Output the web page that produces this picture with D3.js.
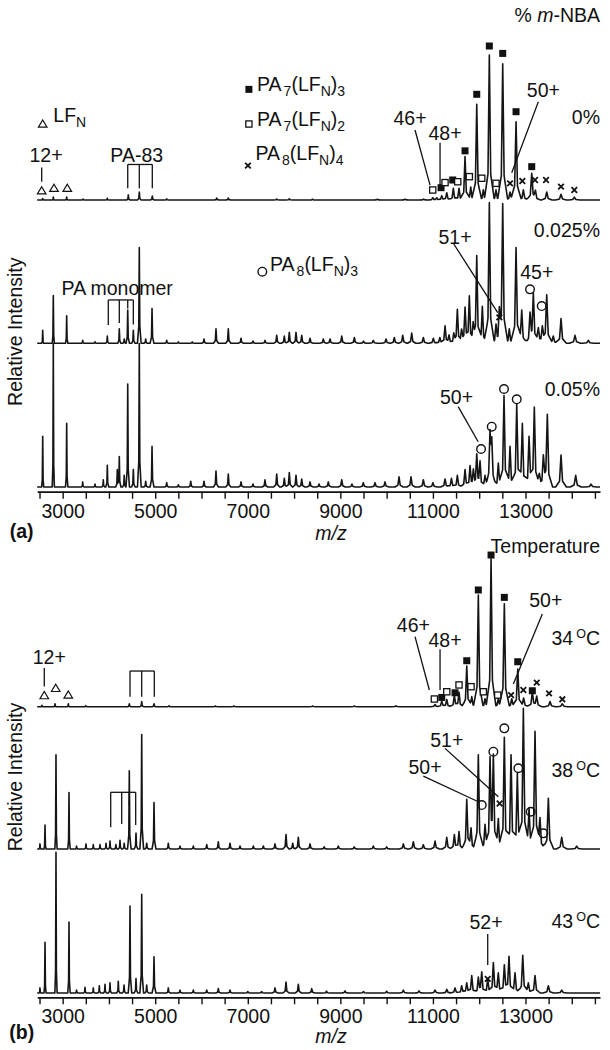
<!DOCTYPE html>
<html><head><meta charset="utf-8">
<script src="https://cdn.jsdelivr.net/npm/d3@7"></script>
<style>
body{margin:0;background:#fff}
svg{display:block}
text{font-family:"Liberation Sans",Arial,sans-serif;fill:#111;font-size:19.5px}
</style>
</head><body>
<svg id="chart" width="610" height="1050"></svg>
<script>
// ---------------- DATA ----------------
const mzDomain = [2450, 14610];
const tickValues = [2500,3000,3500,4000,4500,5000,5500,6000,6500,7000,7500,8000,8500,9000,9500,10000,10500,11000,11500,12000,12500,13000,13500,14000,14500];
const tickLabels = [3000,5000,7000,9000,11000,13000];

// peaks: [m/z, relative intensity]
const peaks_0pct = [[2569,1],[2798,2],[3087,2],[3440,0.7],[3965,1.2],[4419,3.5],[4656,5.5],[4937,2.8],[5248,0.8],[6329,1.4],[6579,1.4],[7625,0.7],[7897,0.8],[8400,0.5],[9800,0.5],[10400,0.6],[10800,0.6],[10996,1.5],[11082,1.5],[11191,3],[11299,5],[11441,8],[11564,8],[11694,30],[11817,9],[11947,66],[12089,7],[12219,100],[12363,7],[12508,94],[12666,5.5],[12796,54],[12954,7],[13135,18],[13215,5.5],[13459,5.5],[13768,4],[14055,2]];
const peaks_0025pct = [[2569,9],[2798,33],[3087,19],[3433,2],[3700,1],[3965,5],[4224,10],[4330,3],[4406,23],[4527,9],[4656,66],[4794,3],[4931,24],[5248,2],[5500,1],[5800,1],[6054,3],[6313,10],[6579,10],[6854,3.5],[7113,1.5],[7372,2],[7625,5.5],[7789,5],[7897,7.5],[8042,7.5],[8165,5.5],[8345,3.5],[8632,3],[8777,3],[9030,5],[9302,4],[9500,1.5],[9712,2],[9987,3],[10166,4],[10348,5.5],[10542,7],[10793,4],[11009,3.5],[11150,4],[11262,12],[11349,5.5],[11450,6],[11528,23],[11620,8],[11694,24],[11787,32],[11870,10],[11947,60],[12068,25.5],[12219,97],[12363,12],[12435,17],[12508,95],[12650,10],[12796,66],[12919,23],[13098,18.6],[13170,33],[13278,10],[13364,10],[13459,33],[13600,5],[13768,17],[14070,5.5],[14358,2]];
const peaks_005pct = [[2569,35],[2798,99],[3087,44],[3433,3.5],[3699,2],[3878,5],[3965,15],[4181,12],[4224,21],[4330,8],[4406,71],[4527,12],[4656,99],[4794,4],[4931,28],[5248,3],[5500,1.5],[5767,4],[6054,4],[6313,11],[6579,9],[6854,3.5],[7113,2],[7372,5],[7625,9],[7789,6],[7897,10],[8042,8],[8165,5.5],[8345,3.5],[8540,2],[8740,3.5],[9030,5],[9250,2],[9496,3],[9749,3],[9965,3.5],[10268,7],[10527,7],[10793,5],[11000,3],[11262,5.5],[11400,6],[11528,8],[11694,12],[11802,14],[11874,10],[11947,21],[12018,16.5],[12126,8],[12234,35],[12271,29],[12413,16.5],[12536,63],[12666,28],[12811,57],[12932,44],[13077,35],[13191,55],[13300,8],[13386,18.6],[13472,49],[13768,22],[14085,8],[14416,2]];
const peaks_34C = [[2550,1],[2835,2],[3122,2],[3500,0.7],[4440,2],[4708,3.5],[4974,2],[5300,0.6],[6300,0.5],[6700,0.5],[8400,0.5],[9300,0.5],[10200,0.6],[11046,1.5],[11191,4],[11299,5],[11463,8],[11564,10],[11731,28],[11839,7],[11981,77],[12126,5.5],[12256,102],[12413,5.5],[12543,71],[12703,5.5],[12833,26],[12960,6],[13148,10],[13243,7],[13530,3.5],[13796,2]];
const peaks_38C = [[2510,3.5],[2619,16.5],[2856,65],[3137,39],[3300,2],[3504,3.5],[3662,3],[3807,3],[3937,4],[4023,5.5],[4150,3],[4239,6],[4330,4],[4440,54],[4585,11],[4708,79],[4816,4],[4974,32],[5283,4],[5536,2],[5823,2],[6113,3],[6363,5],[6616,4],[6832,2],[7120,2],[7336,2],[7588,3.5],[7826,10],[7971,4],[8092,8],[8345,3.5],[8650,1.5],[8956,2],[9300,1.5],[9712,2],[10000,1.5],[10361,3.5],[10577,5],[10793,3],[11046,5.5],[11299,8],[11463,10],[11564,12],[11731,34],[11824,14],[11981,65],[12126,17],[12234,59],[12306,61],[12413,21],[12543,77],[12688,65],[12824,52],[12954,97],[13077,28],[13206,81],[13314,21],[13494,35],[13783,8],[14107,2]];
const peaks_43C = [[2510,3.5],[2619,35],[2856,97],[3137,49],[3300,2],[3483,4],[3662,3.5],[3792,5],[3915,6],[4023,7],[4202,8],[4326,5.5],[4455,60],[4585,10],[4708,68],[4816,5.5],[4974,25],[5283,3.5],[5536,2],[5823,2],[6113,2],[6363,3],[6616,2],[7000,1],[7300,1],[7588,3.5],[7826,7.5],[8092,6],[8381,3],[8700,1.2],[9101,1.5],[9500,1],[10000,1.2],[10361,2],[10700,1.5],[11046,2],[11300,2.5],[11478,3.5],[11622,5],[11731,7],[11839,12],[11981,10],[12055,14],[12184,10],[12306,21],[12413,14],[12543,19],[12644,25],[12774,14],[12941,26],[13062,7],[13206,12],[13494,5],[13783,2]];

// markers: [m/z, intensity level of symbol]
const sqFilled_0pct = [[11176,8.5],[11428,13.8],[11694,33.9],[11947,72.9],[12219,106.2],[12508,101.1],[12796,60.9],[13135,23]];
const sqOpen_0pct = [[10996,6.9],[11262,12],[11536,12.6],[11787,16.1],[12055,15],[12363,11.5]];
const cross_0pct = [[12666,11.5],[12932,13.1],[13206,13.8],[13444,13.8],[13768,9.2],[14055,6.9]];
const tri_0pct = [[2547,6.4],[2813,8.1],[3100,8.1]];
const cross_0025pct = [[12435,17.9]];
const circ_0025pct = [[13098,37.2],[13351,25.7]];
const circ_005pct = [[12040,26.2],[12271,41.6],[12536,67.6],[12811,60.5]];
const sqFilled_34C = [[11191,6.4],[11478,9.6],[11731,31.7],[11981,80.5],[12256,104.6],[12543,75.4],[12833,31],[13148,11]];
const sqOpen_34C = [[11031,5.3],[11299,10.3],[11564,15],[11824,13.8],[12089,10.3],[12400,8]];
const cross_34C = [[12688,8],[12954,11.5],[13243,16.6],[13509,9.2],[13796,5.1]];
const tri_34C = [[2603,7.7],[2850,12.7],[3122,8.1]];
const circ_38C = [[12055,30.3],[12306,67.1],[12543,83.2],[12846,55.7],[13113,25.7],[13386,10.8]];
const cross_38C = [[12441,31.4]];
const cross_43C = [[12184,9.7]];

// ---------------- LAYOUT ----------------
const svg = d3.select("#chart");
const x = d3.scaleLinear().domain(mzDomain).range([37.2, 600]);
const PX_PER_100 = 145;
const yFor = base => d3.scaleLinear().domain([0, 100]).range([base, base - PX_PER_100]);

function widths(c) { return [Math.max(9, c * 0.0024), c * 0.0085]; }
function peakValue(c, h, m) {
  const [wc, ws] = widths(c);
  const d = Math.abs(m - c);
  let v = 0;
  if (d < wc) v += 0.75 * h * (1 - d / wc);
  if (d < ws) v += 0.25 * h * (1 - d / ws);
  return v;
}
function trace(peaks) {
  const set = new Set(mzDomain);
  peaks.forEach(([c]) => {
    const [wc, ws] = widths(c);
    [c - ws, c - wc, c, c + wc, c + ws].forEach(v => { if (v > mzDomain[0] && v < mzDomain[1]) set.add(v); });
  });
  const xs = Array.from(set).sort((a, b) => a - b);
  return xs.map(m => [m, d3.sum(peaks, p => peakValue(p[0], p[1], m))]);
}

function drawSpectrum(peaks, y) {
  svg.append("path")
    .datum(trace(peaks))
    .attr("fill", "none").attr("stroke", "#151515").attr("stroke-width", 1.6)
    .attr("stroke-linejoin", "round")
    .attr("d", d3.line().x(d => x(d[0])).y(d => y(d[1])));
}

function markers(list, y, type) {
  const g = svg.append("g");
  list.forEach(([m, v]) => {
    const cx = x(m), cy = y(v);
    if (type === "sqFilled") g.append("rect").attr("x", cx - 3.5).attr("y", cy - 3.5).attr("width", 7).attr("height", 7).attr("fill", "#111");
    if (type === "sqOpen") g.append("rect").attr("x", cx - 3.1).attr("y", cy - 3.1).attr("width", 6.2).attr("height", 6.2).attr("fill", "#fff").attr("stroke", "#111").attr("stroke-width", 1.3);
    if (type === "cross") g.append("path").attr("d", `M${cx-2.8},${cy-2.8}L${cx+2.8},${cy+2.8}M${cx+2.8},${cy-2.8}L${cx-2.8},${cy+2.8}`).attr("stroke", "#111").attr("stroke-width", 1.8);
    if (type === "circ") g.append("circle").attr("cx", cx).attr("cy", cy).attr("r", 4.3).attr("fill", "none").attr("stroke", "#111").attr("stroke-width", 1.4);
    if (type === "tri") g.append("path").attr("d", `M${cx},${cy-4}L${cx+4.3},${cy+3.2}L${cx-4.3},${cy+3.2}Z`).attr("fill", "#fff").attr("stroke", "#111").attr("stroke-width", 1.2);
  });
}

function label(t, m, v, y, anchor) {
  const tx = svg.append("text").attr("x", m === "end" ? 600 : x(m)).attr("y", y(v)).attr("dy", "0.36em")
    .attr("text-anchor", m === "end" ? "end" : (anchor || "middle"));
  return tx.text(t);
}
function degLabel(num, v, y) {
  const t = svg.append("text").attr("x", 600).attr("y", y(v)).attr("dy", "0.36em").attr("text-anchor", "end");
  t.append("tspan").text(num);
  t.append("tspan").attr("dx", 3).attr("dy", -7).style("font-size", "12.5px").text("O");
  t.append("tspan").attr("dy", 7).text("C");
}
function seg(m1, v1, m2, v2, y) {
  svg.append("line").attr("x1", x(m1)).attr("y1", y(v1)).attr("x2", x(m2)).attr("y2", y(v2))
    .attr("stroke", "#111").attr("stroke-width", 1.3);
}
function bracket(mzs, top, bottoms, y) {
  seg(mzs[0], top, mzs[mzs.length - 1], top, y);
  mzs.forEach((m, i) => seg(m, top, m, bottoms[i], y));
}
function formula(m, v, y, parts) {
  const t = svg.append("text").attr("x", x(m)).attr("y", y(v)).attr("dy", "0.36em");
  let sub = false;
  parts.forEach(p => {
    if (p.sub) {
      t.append("tspan").attr("dy", sub ? 0 : 5).attr("dx", p.dx || 0).style("font-size", "14px").text(p.s);
      sub = true;
    } else {
      t.append("tspan").attr("dy", sub ? -5 : 0).text(p.s);
      sub = false;
    }
  });
}
function axis(yPos, tag, tagBaseline, mzBaseline, riCenter) {
  const g = svg.append("g").attr("transform", `translate(0,${yPos})`)
    .call(d3.axisBottom(x).tickValues(tickValues).tickSize(7).tickSizeOuter(0).tickPadding(5)
      .tickFormat(d => tickLabels.includes(d) ? d : ""));
  g.select(".domain").attr("stroke", "#111").attr("stroke-width", 1.8);
  g.selectAll(".tick line").attr("stroke", "#111").attr("stroke-width", 1.4);
  g.selectAll(".tick text").attr("fill", "#111").style("font-size", "19.5px").style("font-family", '"Liberation Sans",Arial,sans-serif');
  svg.append("text").attr("x", 21.7).attr("y", tagBaseline).attr("text-anchor", "middle").style("font-weight", "bold").text(tag);
  svg.append("text").attr("x", 331).attr("y", mzBaseline).attr("text-anchor", "middle").style("font-style", "italic").text("m/z");
  svg.append("text").attr("transform", `translate(22.3,${riCenter}) rotate(-90)`).attr("text-anchor", "middle").text("Relative Intensity");
}

// ---------------- PANEL (a) ----------------
const yA1 = yFor(200), yA2 = yFor(343.3), yA3 = yFor(487);
drawSpectrum(peaks_0pct, yA1);
drawSpectrum(peaks_0025pct, yA2);
drawSpectrum(peaks_005pct, yA3);
axis(491.7, "(a)", 538, 540, 331.7);

markers(sqFilled_0pct, yA1, "sqFilled");
markers(sqOpen_0pct, yA1, "sqOpen");
markers(cross_0pct, yA1, "cross");
markers(tri_0pct, yA1, "tri");
markers(cross_0025pct, yA2, "cross");
markers(circ_0025pct, yA2, "circ");
markers(circ_005pct, yA3, "circ");

// legend
markers([[7024, 76.3]], yA1, "sqFilled");
formula(7200, 75.3, yA1, [{s:"PA"},{s:"7",sub:true,dx:2},{s:"(LF"},{s:"N",sub:true},{s:")"},{s:"3",sub:true}]);
markers([[7024, 52.4]], yA1, "sqOpen");
formula(7200, 51.2, yA1, [{s:"PA"},{s:"7",sub:true,dx:2},{s:"(LF"},{s:"N",sub:true},{s:")"},{s:"2",sub:true}]);
markers([[7003, 23.7]], yA1, "cross");
formula(7165, 27.9, yA1, [{s:"PA"},{s:"8",sub:true,dx:2},{s:"(LF"},{s:"N",sub:true},{s:")"},{s:"4",sub:true}]);
markers([[2569, 52.4]], yA1, "tri");
formula(2798, 54, yA1, [{s:"LF"},{s:"N",sub:true}]);
markers([[7314, 49.4]], yA2, "circ");
formula(7480, 50, yA2, [{s:"PA"},{s:"8",sub:true,dx:2},{s:"(LF"},{s:"N",sub:true},{s:")"},{s:"3",sub:true}]);

// annotations (a)
const nba = svg.append("text").attr("x", 600).attr("y", yA1(127.6)).attr("dy", "0.36em").attr("text-anchor", "end");
nba.append("tspan").text("% ");
nba.append("tspan").style("font-style", "italic").text("m");
nba.append("tspan").text("-NBA");
label("0%", "end", 57.4, yA1);
label("46+", 10505, 56.3, yA1); seg(10613, 48.3, 10938, 10.3, yA1);
label("48+", 11262, 46, yA1); seg(11154, 39.5, 11154, 9.2, yA1);
label("50+", 13386, 75.9, yA1); seg(13278, 67.8, 12703, 18.8, yA1);
label("12+", 2640, 31, yA1); seg(2547, 22.5, 2547, 12.6, yA1);
label("PA-83", 4600, 31, yA1);
bracket([4406, 4656, 4937], 24.5, [8.1, 8.1, 8.1], yA1);

label("0.025%", "end", 78.1, yA2);
label("51+", 11478, 73.5, yA2); seg(11441, 69, 12400, 21.1, yA2);
label("45+", 13243, 49.4, yA2);
label("PA monomer", 4179, 38.3, yA2);
bracket([3986, 4224, 4406, 4527], 29.9, [12.6, 14, 24, 13], yA2);

label("0.05%", "end", 67.4, yA3);
label("50+", 11509, 62.3, yA3); seg(11546, 55.4, 11978, 31.2, yA3);

// ---------------- PANEL (b) ----------------
const yB1 = yFor(706.7), yB2 = yFor(849), yB3 = yFor(993);
drawSpectrum(peaks_34C, yB1);
drawSpectrum(peaks_38C, yB2);
drawSpectrum(peaks_43C, yB3);
axis(997.3, "(b)", 1039, 1043, 777);

markers(sqFilled_34C, yB1, "sqFilled");
markers(sqOpen_34C, yB1, "sqOpen");
markers(cross_34C, yB1, "cross");
markers(tri_34C, yB1, "tri");
markers(circ_38C, yB2, "circ");
markers(cross_38C, yB2, "cross");
markers(cross_43C, yB3, "cross");

label("Temperature", "end", 110.8, yB1);
label("46+", 10577, 56.3, yB1); seg(10613, 48.3, 10923, 11.5, yB1);
label("48+", 11262, 46, yB1); seg(11154, 39.6, 11154, 11.5, yB1);
label("50+", 13439, 73.6, yB1); seg(13364, 63.9, 12738, 15.7, yB1);
label("12+", 2711, 34.3, yB1); seg(2603, 26.7, 2603, 13.9, yB1);
bracket([4455, 4708, 4980], 24.6, [6.9, 6.9, 6.9], yB1);
degLabel("34", 47.2, yB1);

label("51+", 11299, 75.2, yB2); seg(11262, 69.4, 12413, 36.1, yB2);
label("50+", 10830, 56.8, yB2); seg(10793, 50.3, 11981, 32.6, yB2);
bracket([4038, 4276, 4440, 4578], 39.1, [15, 17.2, 30, 16.6], yB2);
degLabel("38", 54.5, yB2);

label("52+", 12148, 48.8, yB3); seg(12184, 40.7, 12184, 19.3, yB3);
degLabel("43", 49.9, yB3);
</script>
</body></html>
